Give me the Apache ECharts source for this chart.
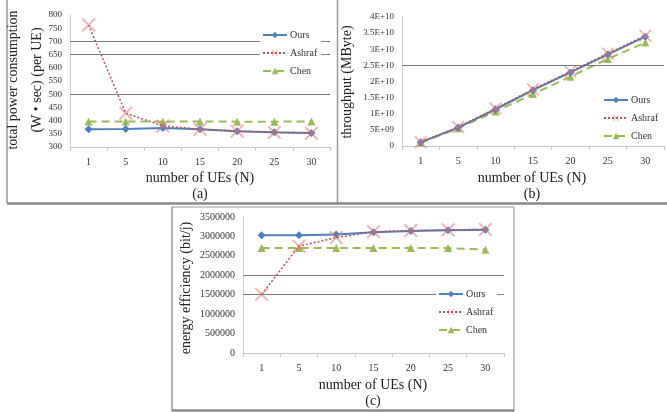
<!DOCTYPE html>
<html>
<head>
	<meta charset="UTF-8">
	<title>UE comparison</title>
	<script src="https://cdn.jsdelivr.net/npm/echarts@6/dist/echarts.min.js"></script>
	<style>
		body { margin: 0; background: #fff; }
	</style>
</head>
<body>
<div id="main" style="width: 667px;height:412px;"></div>
<script type="text/javascript">
	// number of UEs (shared by the three panels)
	var ueCats = ['1', '5', '10', '15', '20', '25', '30'];

	// (a) total power consumption (W*sec) per UE
	var powerOurs = [367, 368, 372, 367, 360, 356, 353];
	var powerAshraf = [762, 428, 380, 367, 360, 355, 352];
	var powerChen = [397, 397, 396, 397, 396, 396, 397];
	var powerDarkLines = [700, 650, 500];

	// (b) throughput (MByte)
	var thrOurs = [1.2e9, 5.7e9, 1.14e10, 1.73e10, 2.28e10, 2.84e10, 3.39e10];
	var thrAshraf = [1.2e9, 5.9e9, 1.16e10, 1.76e10, 2.31e10, 2.87e10, 3.42e10];
	var thrChen = [1.0e9, 5.5e9, 1.07e10, 1.61e10, 2.15e10, 2.70e10, 3.21e10];
	var thrTicks = ['0', '5E+09', '1E+10', '1.5E+10', '2E+10', '2.5E+10', '3E+10', '3.5E+10', '4E+10'];
	var thrDarkLines = [2.5e10];

	// (c) energy efficiency (bit/j)
	var effOurs = [3030000, 3030000, 3050000, 3110000, 3140000, 3160000, 3170000];
	var effAshraf = [1510000, 2750000, 2970000, 3120000, 3150000, 3170000, 3180000];
	var effChen = [2700000, 2700000, 2700000, 2700000, 2700000, 2700000, 2660000];
	var effTicks = ['0', '500000', '1000000', '1500000', '2000000', '2500000', '3000000', '3500000'];
	var effDarkLines = [2000000, 1500000];

	var FONT = 'Liberation Serif';
	var BLUE = '#4F81BD', RED = '#C0504D', GREEN = '#9BBB59';
	// X marker drawn as a filled cross
	var CROSS = 'path://M0,1L1,0L5,4L9,0L10,1L6,5L10,9L9,10L5,6L1,10L0,9L4,5Z';

	var myChart = echarts.init(document.getElementById('main'));

	function xAxisOf(i) {
		return {
			type: 'category', gridIndex: i, data: ueCats,
			axisLine: { lineStyle: { color: '#c8c8c8' } },
			axisTick: { show: true, length: 4, lineStyle: { color: '#c8c8c8' } },
			axisLabel: { fontFamily: FONT, fontSize: 10, color: '#333', margin: 10 }
		};
	}

	function yAxisOf(i, min, max, step, fmt, fs) {
		return {
			type: 'value', gridIndex: i, min: min, max: max, interval: step,
			axisLine: { show: true, lineStyle: { color: '#d0d0d0' } },
			axisTick: { show: false },
			splitLine: { show: false },
			axisLabel: { fontFamily: FONT, fontSize: fs, color: '#333', margin: 8, formatter: fmt }
		};
	}

	function darkLines(vals) {
		return {
			silent: true, symbol: 'none', animation: false,
			label: { show: false },
			lineStyle: { color: '#7a7a7a', width: 1.2, type: 'solid' },
			data: vals.map(function (v) { return { yAxis: v }; })
		};
	}

	function seriesOf(i, ours, ashraf, chen, lines, sym) {
		return [
			{
				name: 'Ours', type: 'line', xAxisIndex: i, yAxisIndex: i, data: ours,
				symbol: 'diamond', symbolSize: 8,
				lineStyle: { color: BLUE, width: 2 }, itemStyle: { color: BLUE },
				markLine: darkLines(lines), z: 3
			},
			{
				name: 'Ashraf', type: 'line', xAxisIndex: i, yAxisIndex: i, data: ashraf,
				symbol: CROSS, symbolSize: sym,
				lineStyle: { color: RED, width: 1.5, type: [2, 2] },
				itemStyle: { color: 'rgba(226,120,120,0.55)' }, z: 4
			},
			{
				name: 'Chen', type: 'line', xAxisIndex: i, yAxisIndex: i, data: chen,
				symbol: 'triangle', symbolSize: 8,
				lineStyle: { color: GREEN, width: 2, type: [8, 5] }, itemStyle: { color: GREEN }, z: 2
			}
		];
	}

	function legendOf(left, top) {
		return {
			data: ['Ours', 'Ashraf', 'Chen'],
			orient: 'vertical', left: left, top: top, z: 20,
			itemWidth: 24, itemHeight: 8, itemGap: 8, padding: [3, 4, 3, 2],
			backgroundColor: '#fff',
			textStyle: { fontFamily: FONT, fontSize: 10, color: '#333', padding: [0, 0, 0, -2] }
		};
	}

	function title(text, x, y, rot) {
		return {
			type: 'text', x: x, y: y, rotation: rot || 0,
			style: { text: text, fontFamily: FONT, fontSize: 14, fill: '#222', align: 'center', verticalAlign: 'middle', lineHeight: 24 }
		};
	}

	function seg(x1, y1, x2, y2, w, c) {
		return { type: 'line', shape: { x1: x1, y1: y1, x2: x2, y2: y2 }, style: { stroke: c || '#999', lineWidth: w || 1 } };
	}

	var option = {
		animation: false,
		grid: [
			{ left: 70, top: 15, width: 260, height: 132 },
			{ left: 402, top: 17, width: 262, height: 129 },
			{ left: 243, top: 217, width: 261, height: 136 }
		],
		xAxis: [xAxisOf(0), xAxisOf(1), xAxisOf(2)],
		yAxis: [
			yAxisOf(0, 300, 800, 50, null, 9),
			yAxisOf(1, 0, 4e10, 5e9, function (v) { return thrTicks[Math.round(v / 5e9)]; }, 9),
			yAxisOf(2, 0, 3500000, 500000, function (v) { return effTicks[Math.round(v / 500000)]; }, 10)
		],
		legend: [legendOf(260, 27), legendOf(601, 92), legendOf(436, 286)],
		series: []
			.concat(seriesOf(0, powerOurs, powerAshraf, powerChen, powerDarkLines, 14))
			.concat(seriesOf(1, thrOurs, thrAshraf, thrChen, thrDarkLines, 13))
			.concat(seriesOf(2, effOurs, effAshraf, effChen, effDarkLines, 14)),
		graphic: [
			// panel frames
			seg(7, 0, 7, 203, 1.5),
			seg(337.5, 0, 337.5, 203, 1.5),
			seg(7, 203.5, 667, 203.5, 2.5, '#8a8a8a'),
			seg(172, 207, 514, 207, 1.2),
			seg(172, 207, 172, 411, 1.5),
			seg(514, 207, 514, 411, 1.2),
			seg(172, 410.5, 514, 410.5, 2.5, '#8a8a8a'),
			// axis titles and panel letters
			title('total power consumption\n(W \u2022 sec) (per UE)', 25, 80, Math.PI / 2),
			title('number of UEs (N)', 200, 178),
			title('(a)', 200, 194),
			title('throughput (MByte)', 347, 82, Math.PI / 2),
			title('number of UEs (N)', 532, 178),
			title('(b)', 532, 194),
			title('energy efficiency (bit/j)', 186, 288, Math.PI / 2),
			title('number of UEs (N)', 373, 385),
			title('(c)', 373, 401)
		]
	};

	myChart.setOption(option);
</script>
</body>
</html>
